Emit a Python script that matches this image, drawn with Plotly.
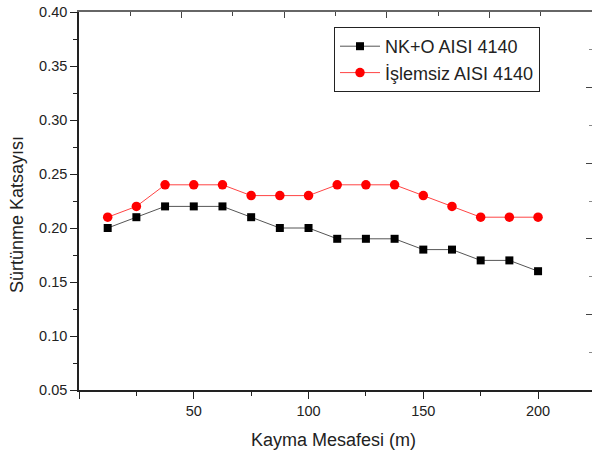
import plotly.graph_objects as go

distance = [12.5, 25, 37.5, 50, 62.5, 75, 87.5, 100, 112.5, 125, 137.5, 150, 162.5, 175, 187.5, 200]
nko = [0.20, 0.21, 0.22, 0.22, 0.22, 0.21, 0.20, 0.20, 0.19, 0.19, 0.19, 0.18, 0.18, 0.17, 0.17, 0.16]
islemsiz = [0.21, 0.22, 0.24, 0.24, 0.24, 0.23, 0.23, 0.23, 0.24, 0.24, 0.24, 0.23, 0.22, 0.21, 0.21, 0.21]
x_ticks = [0, 50, 100, 150, 200]
x_ticktext = ["", "50", "100", "150", "200"]

FONT = "Liberation Sans, Arial, sans-serif"
W, H = 592, 457
ML, MR, MT, MB = 79, 0, 12, 67
PW, PH = W - ML - MR, H - MT - MB

fig = go.Figure()
fig.add_trace(go.Scatter(
    x=distance, y=nko, mode="lines+markers", name="NK+O AISI 4140",
    line=dict(color="#555555", width=1),
    marker=dict(symbol="square", size=8, color="black"),
))
fig.add_trace(go.Scatter(
    x=distance, y=islemsiz, mode="lines+markers", name="İşlemsiz AISI 4140",
    line=dict(color="#ff4444", width=1),
    marker=dict(symbol="circle", size=9.5, color="#ff0000"),
))
# invisible trace to anchor the frame axes (top / right)
fig.add_trace(go.Scatter(x=[0], y=[0], xaxis="x2", yaxis="y2", mode="markers",
                         marker=dict(opacity=0), showlegend=False, hoverinfo="skip"))

fig.update_layout(
    width=W, height=H,
    margin=dict(l=ML, r=MR, t=MT, b=MB, autoexpand=False),
    paper_bgcolor="white", plot_bgcolor="white",
    font=dict(family=FONT, size=14, color="#222222"),
    showlegend=True,
    legend=dict(
        x=(334 - ML) / PW, y=(H - MB - 27) / PH, xanchor="left", yanchor="top",
        bordercolor="#222222", borderwidth=1, bgcolor="white",
        font=dict(family=FONT, size=18, color="#222222"),
        itemwidth=40, tracegroupgap=0,
    ),
    xaxis=dict(
        range=[0, 223.5], showgrid=False, zeroline=False, automargin=False,
        showline=True, linecolor="#222222", linewidth=1.5,
        ticks="outside", ticklen=7, tickwidth=1.2, tickcolor="#222222",
        tickvals=x_ticks, ticktext=x_ticktext,
        minor=dict(tickvals=[25, 75, 125, 175, 225], ticks="outside", ticklen=4,
                   tickcolor="#222222", showgrid=False),
        tickfont=dict(size=14.5),
    ),
    yaxis=dict(
        range=[0.05, 0.40], showgrid=False, zeroline=False, automargin=False,
        showline=True, linecolor="#222222", linewidth=1.5,
        ticks="outside", ticklen=7, tickwidth=1.2, tickcolor="#222222",
        dtick=0.05, tick0=0.05, tickformat=".2f",
        minor=dict(dtick=0.025, ticks="outside", ticklen=4, tickcolor="#222222", showgrid=False),
        tickfont=dict(size=14.5),
    ),
    xaxis2=dict(
        overlaying="x", side="top", range=[0, 10], showgrid=False, zeroline=False,
        automargin=False,
        showline=True, linecolor="#666666", linewidth=1.5,
        ticks="inside", ticklen=6, tickwidth=1.2, tickcolor="#444444",
        dtick=2, tick0=0, showticklabels=False,
        minor=dict(dtick=1, ticks="inside", ticklen=4, tickcolor="#444444", showgrid=False),
    ),
    yaxis2=dict(
        overlaying="y", side="right", range=[0, 10], showgrid=False, zeroline=False,
        automargin=False, showline=False,
        ticks="inside", ticklen=6, tickwidth=1.2, tickcolor="#444444",
        dtick=2, tick0=0, showticklabels=False,
        minor=dict(dtick=1, ticks="inside", ticklen=3, tickcolor="#888888", showgrid=False),
    ),
    annotations=[
        dict(text="Kayma Mesafesi (m)", xref="paper", yref="paper",
             x=(333 - ML) / PW, y=-(440 - (H - MB)) / PH, xanchor="center", yanchor="middle",
             showarrow=False, font=dict(family=FONT, size=18, color="#222222")),
        dict(text="Sürtünme Katsayısı", xref="paper", yref="paper", textangle=-90,
             x=-(ML - 17) / PW, y=(H - MB - 215) / PH, xanchor="center", yanchor="middle",
             showarrow=False, font=dict(family=FONT, size=18, color="#222222")),
    ],
)

fig.write_html("out.html", config={"displayModeBar": False},
               post_script="document.body.style.margin='0';document.body.style.overflow='hidden';")
